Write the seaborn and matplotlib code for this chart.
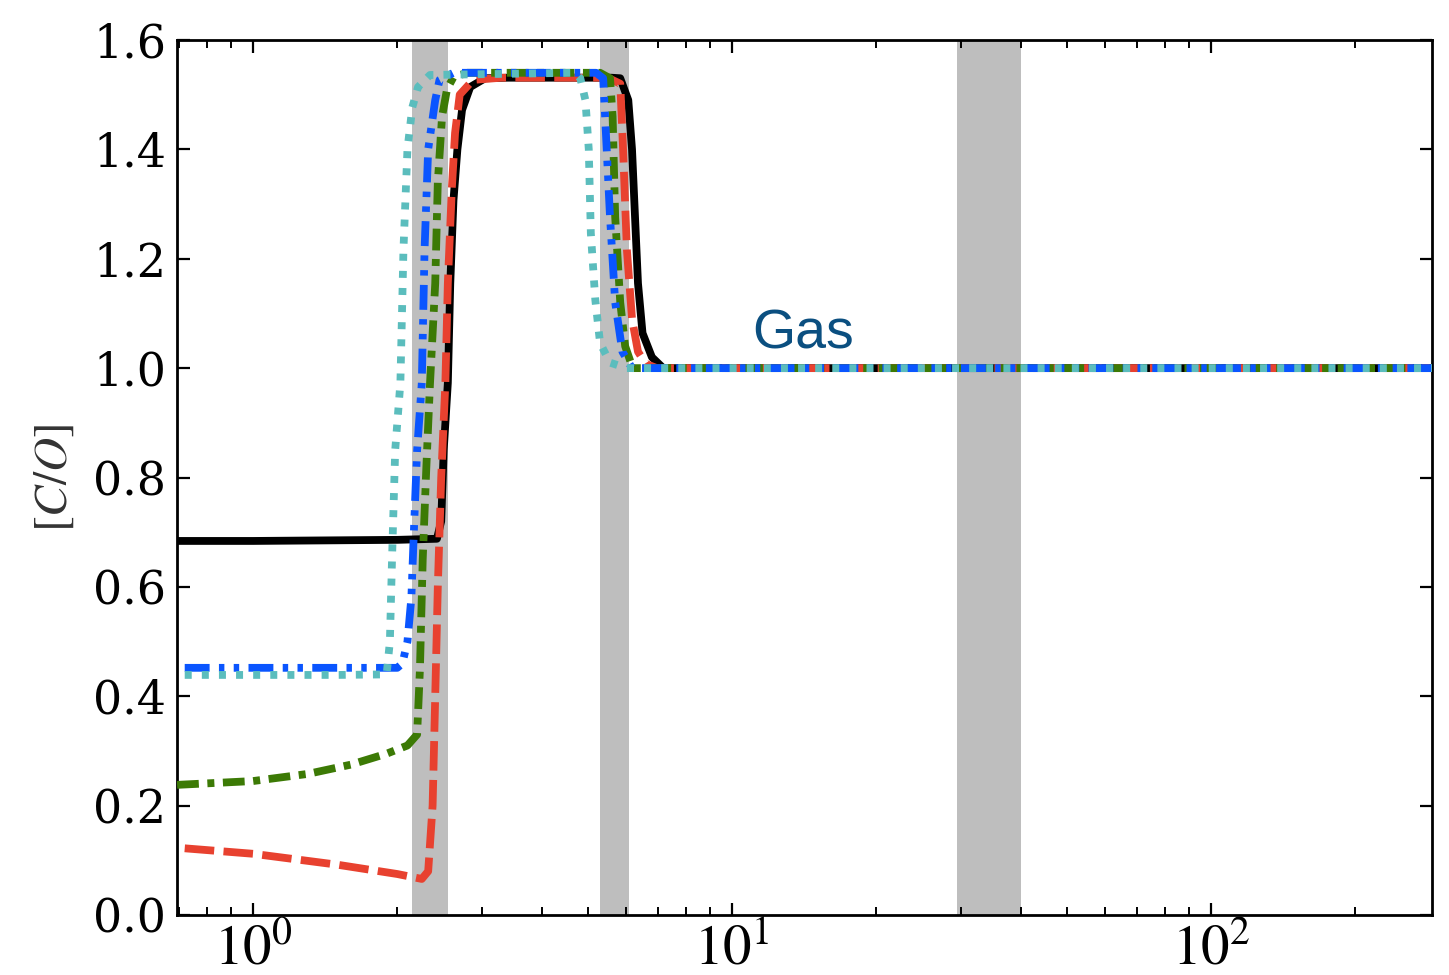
import numpy as np
import pandas as pd
import seaborn as sns
import matplotlib
matplotlib.use("Agg")
import matplotlib.pyplot as plt
from matplotlib.ticker import FormatStrFormatter, LogLocator, NullFormatter

# ---------------- data ----------------
black_x = [0.694, 1.0, 2.0, 2.42, 2.47, 2.50, 2.55, 2.58, 2.62, 2.67, 2.73, 2.84, 3.05, 3.4,
           5.6, 5.84, 6.07, 6.18, 6.27, 6.36, 6.5, 6.8, 7.18, 289]
black_y = [0.684, 0.684, 0.686, 0.688, 0.72, 0.85, 0.973, 1.155, 1.307, 1.40, 1.472, 1.514,
           1.53, 1.531, 1.531, 1.53, 1.49, 1.40, 1.276, 1.155, 1.064, 1.02, 1.0, 1.0]

red_x = [0.72, 1.0, 1.5, 2.0, 2.25, 2.32, 2.37, 2.40, 2.43, 2.47, 2.52, 2.55, 2.60, 2.64,
         2.70, 2.88, 3.3, 5.5, 5.84, 5.92, 6.03, 6.18, 6.36, 6.6, 6.96, 289]
red_y = [0.122, 0.112, 0.092, 0.075, 0.066, 0.08, 0.2, 0.4, 0.6, 0.8, 0.973, 1.155, 1.33,
         1.43, 1.50, 1.527, 1.531, 1.531, 1.52, 1.40, 1.216, 1.09, 1.03, 1.008, 1.0, 1.0]

green_x = [0.694, 1.0, 1.3, 1.6, 1.9, 2.1, 2.2, 2.23, 2.26, 2.30, 2.34, 2.40, 2.43, 2.48,
           2.54, 2.62, 2.8, 5.3, 5.56, 5.63, 5.70, 5.84, 5.98, 6.2, 289]
green_y = [0.238, 0.245, 0.258, 0.275, 0.295, 0.31, 0.33, 0.45, 0.65, 0.82, 0.97, 1.155,
           1.34, 1.46, 1.51, 1.532, 1.54, 1.54, 1.53, 1.46, 1.276, 1.12, 1.04, 1.0, 1.0]

blue_x = [0.72, 1.0, 1.5, 2.0, 2.05, 2.1, 2.14, 2.17, 2.2, 2.25, 2.28, 2.32, 2.40, 2.45,
          2.62, 5.2, 5.38, 5.43, 5.56, 5.70, 5.90, 6.18, 289]
blue_y = [0.452, 0.452, 0.452, 0.452, 0.46, 0.50, 0.58, 0.72, 0.85, 0.973, 1.216, 1.40,
          1.49, 1.527, 1.54, 1.54, 1.53, 1.46, 1.276, 1.12, 1.03, 1.0, 1.0]

cyan_x = [0.72, 1.0, 1.5, 1.90, 1.93, 1.95, 1.98, 2.03, 2.06, 2.10, 2.15, 2.21, 2.34, 4.7,
          4.82, 4.94, 5.02, 5.07, 5.18, 5.30, 5.56, 6.03, 289]
cyan_y = [0.439, 0.439, 0.439, 0.44, 0.5, 0.65, 0.85, 0.973, 1.216, 1.40, 1.477, 1.514,
          1.536, 1.54, 1.53, 1.49, 1.40, 1.247, 1.125, 1.046, 1.01, 1.0, 1.0]

bands = [(2.15, 2.55), (5.3, 6.1), (29.5, 40.0)]

y_ticks = [0.0, 0.2, 0.4, 0.6, 0.8, 1.0, 1.2, 1.4, 1.6]
x_ticks = [1, 10, 100]
x_tick_labels = [r"$10^{0}$", r"$10^{1}$", r"$10^{2}$"]
y_label = r"$[C/O]$"
annotation = "Gas"

# ---------------- styling ----------------
sns.set_theme(style="ticks")
plt.rcParams["font.family"] = ["DejaVu Serif", "DejaVu Sans"]
plt.rcParams["mathtext.fontset"] = "stix"

fig = plt.figure(figsize=(7.245, 4.875), dpi=200)
ax = fig.add_axes([0.1222, 0.0615, 0.8661, 0.8975])

for lo, hi in bands:
    ax.axvspan(lo, hi, color="#bebebe", lw=0, zorder=0)

lw = 2.8
series = [
    (black_x, black_y, "black", "-"),
    (red_x, red_y, "#e8412f", (0, (3.8, 1.2))),
    (green_x, green_y, "#3c7a05", (0, (2.8, 1.1, 0.9, 1.1))),
    (blue_x, blue_y, "#0a55ff", (0, (3.2, 1.2, 0.7, 1.2, 0.7, 1.2))),
    (cyan_x, cyan_y, "#5bbdbd", (0, (0.9, 1.3))),
]
for xs, ys, c, ls in series:
    sns.lineplot(x=np.array(xs), y=np.array(ys), sort=False, estimator=None,
                 color=c, linestyle=ls, lw=lw, ax=ax, zorder=3)

ax.set_xscale("log")
ax.set_xlim(0.694, 289)
ax.set_ylim(0, 1.6)

ax.set_yticks(y_ticks)
ax.yaxis.set_major_formatter(FormatStrFormatter("%.1f"))
ax.set_xticks(x_ticks)
ax.set_xticklabels(x_tick_labels)
ax.xaxis.set_minor_locator(LogLocator(base=10, subs=np.arange(2, 10)))
ax.xaxis.set_minor_formatter(NullFormatter())

ax.tick_params(which="both", direction="in", top=True, right=True, colors="black")
ax.tick_params(which="major", length=4.5, width=0.8)
ax.tick_params(which="minor", length=2.8, width=0.7)
ax.tick_params(axis="y", labelsize=16.5, pad=4)
ax.tick_params(axis="x", labelsize=20.5, pad=2)
for sp in ax.spines.values():
    sp.set_color("black")
    sp.set_linewidth(1.0)

ax.set_ylabel(y_label, fontsize=17, color="#333333", labelpad=6)
ax.set_xlabel("")

ax.text(11.0, 1.035, annotation, fontsize=20, color="#0b4f80",
        family="Liberation Sans", ha="left", va="baseline", zorder=5)

fig.savefig("out.png", dpi=200)
